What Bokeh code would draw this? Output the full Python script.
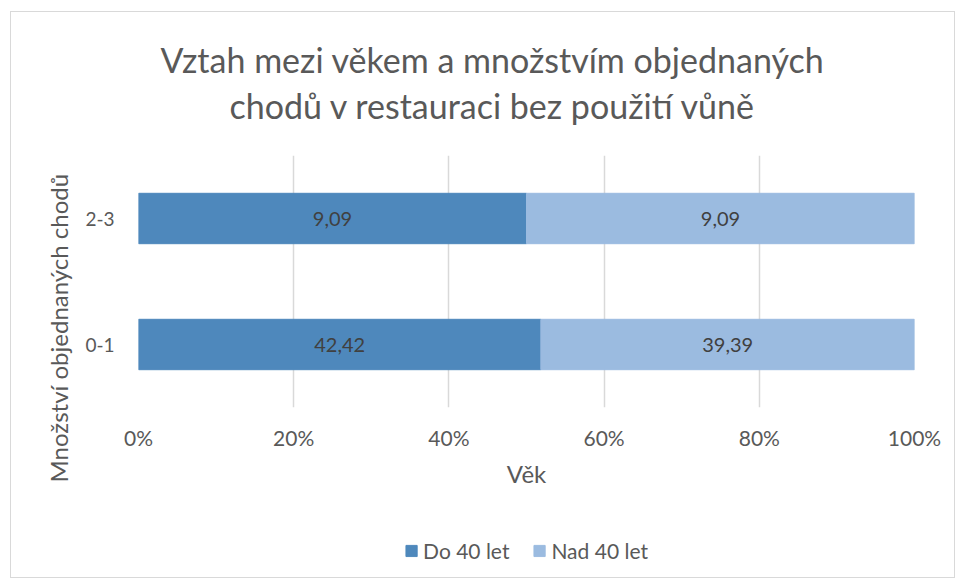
from bokeh.plotting import figure
from bokeh.models import (ColumnDataSource, Range1d, NumeralTickFormatter, FixedTicker,
                          Title, Legend, LegendItem, LabelSet)
from bokeh.layouts import column
from bokeh.embed import file_html
from bokeh.resources import INLINE
from bokeh.core.properties import value

categories = ["0-1", "2-3"]
do40 = [42.42, 9.09]
nad40 = [39.39, 9.09]
series_names = ["Do 40 let", "Nad 40 let"]
x_ticks = [0, 0.2, 0.4, 0.6, 0.8, 1.0]
title_lines = ["Vztah mezi věkem a množstvím objednaných", "chodů v restauraci bez použití vůně"]
x_title = "Věk"
y_title = "Množství objednaných chodů"

C1 = "#4E88BC"
C2 = "#9BBBE0"
TXT = "#595959"
FONT = "Lato"

totals = [a + b for a, b in zip(do40, nad40)]
p1 = [a / t for a, t in zip(do40, totals)]
src = ColumnDataSource(dict(
    cat=categories,
    l1=[0.0] * len(categories), r1=p1,
    l2=p1, r2=[1.0] * len(categories),
    m1=[x / 2 for x in p1], m2=[(x + 1) / 2 for x in p1],
    t1=[f"{v:.2f}".replace(".", ",") for v in do40],
    t2=[f"{v:.2f}".replace(".", ",") for v in nad40],
))

p = figure(width=943, height=511, y_range=categories, x_range=Range1d(0, 1),
           output_backend="svg", toolbar_location=None,
           min_border_left=127, min_border_right=40, min_border_top=143, min_border_bottom=116)
p.outline_line_color = None
p.background_fill_color = "white"
p.border_fill_color = "white"

b1 = p.hbar(y="cat", left="l1", right="r1", height=0.4, color=C1, source=src)
b2 = p.hbar(y="cat", left="l2", right="r2", height=0.4, color=C2, source=src)

for xcol, tcol in (("m1", "t1"), ("m2", "t2")):
    p.add_layout(LabelSet(x=xcol, y="cat", text=tcol, source=src, text_align="center",
                          text_baseline="middle", text_font=value(FONT),
                          text_font_size="20px", text_color="#404040"))

p.xaxis.ticker = FixedTicker(ticks=x_ticks)
p.xaxis.formatter = NumeralTickFormatter(format="0%")
p.xaxis.axis_line_color = None
p.xaxis.major_tick_line_color = None
p.xaxis.minor_tick_line_color = None
p.xaxis.major_label_standoff = 11
p.xaxis.major_label_text_font = FONT
p.xaxis.major_label_text_font_size = "21px"
p.xaxis.major_label_text_color = TXT
p.xaxis.axis_label = x_title
p.xaxis.axis_label_text_font = FONT
p.xaxis.axis_label_text_font_size = "24px"
p.xaxis.axis_label_text_font_style = "normal"
p.xaxis.axis_label_text_color = TXT
p.xaxis.axis_label_standoff = 6

p.yaxis.axis_line_color = None
p.yaxis.major_tick_line_color = None
p.yaxis.minor_tick_line_color = None
p.yaxis.major_label_standoff = 18
p.yaxis.major_label_text_font = FONT
p.yaxis.major_label_text_font_size = "19px"
p.yaxis.major_label_text_color = TXT

p.ygrid.grid_line_color = None
p.xgrid.ticker = FixedTicker(ticks=x_ticks)
p.xgrid.grid_line_color = "#D9D9D9"
p.xgrid.grid_line_width = 1.5

# y-axis title as a side title so that it can be shifted along the axis
p.add_layout(Title(text=y_title, align="left", offset=-75, text_font=FONT,
                   text_font_size="24px", text_font_style="normal", text_color=TXT,
                   standoff=19), "left")

# title: spacer, second line, first line (stacked outward from the frame)
p.add_layout(Title(text=" ", text_font_size="10px", standoff=16), "above")
p.add_layout(Title(text=title_lines[1], align="left", offset=91, text_font=FONT,
                   text_font_size="34px", text_font_style="normal", text_color=TXT,
                   standoff=2), "above")
p.title.text = title_lines[0]
p.title.align = "left"
p.title.offset = 22
p.title.text_font = FONT
p.title.text_font_size = "34px"
p.title.text_font_style = "normal"
p.title.text_color = TXT
p.title.standoff = 4

# legend strip
lg = figure(width=943, height=54, x_range=Range1d(0, 1), y_range=Range1d(0, 1),
            output_backend="svg", toolbar_location=None,
            min_border_left=0, min_border_right=0, min_border_top=0, min_border_bottom=0)
lg.axis.visible = False
lg.grid.visible = False
lg.outline_line_color = None
lg.background_fill_color = "white"
lg.border_fill_color = "white"
s1 = lg.rect(x=[-5], y=[-5], width=1, height=1, color=C1)
s2 = lg.rect(x=[-5], y=[-5], width=1, height=1, color=C2)
legend = Legend(items=[LegendItem(label=series_names[0], renderers=[s1]),
                       LegendItem(label=series_names[1], renderers=[s2])],
                orientation="horizontal", location="center",
                glyph_width=14, glyph_height=14, label_text_font=FONT,
                label_text_font_size="21px", label_text_color=TXT,
                background_fill_alpha=0, border_line_color=None, spacing=23,
                label_standoff=5, padding=0, margin=0)
lg.add_layout(legend, "center")

lay = column(p, lg, spacing=0)
lay.margin = (11, 0, 0, 10)
lay.styles = {"border": "1px solid #D9D9D9"}

open("out.html", "w").write(file_html(lay, INLINE))
